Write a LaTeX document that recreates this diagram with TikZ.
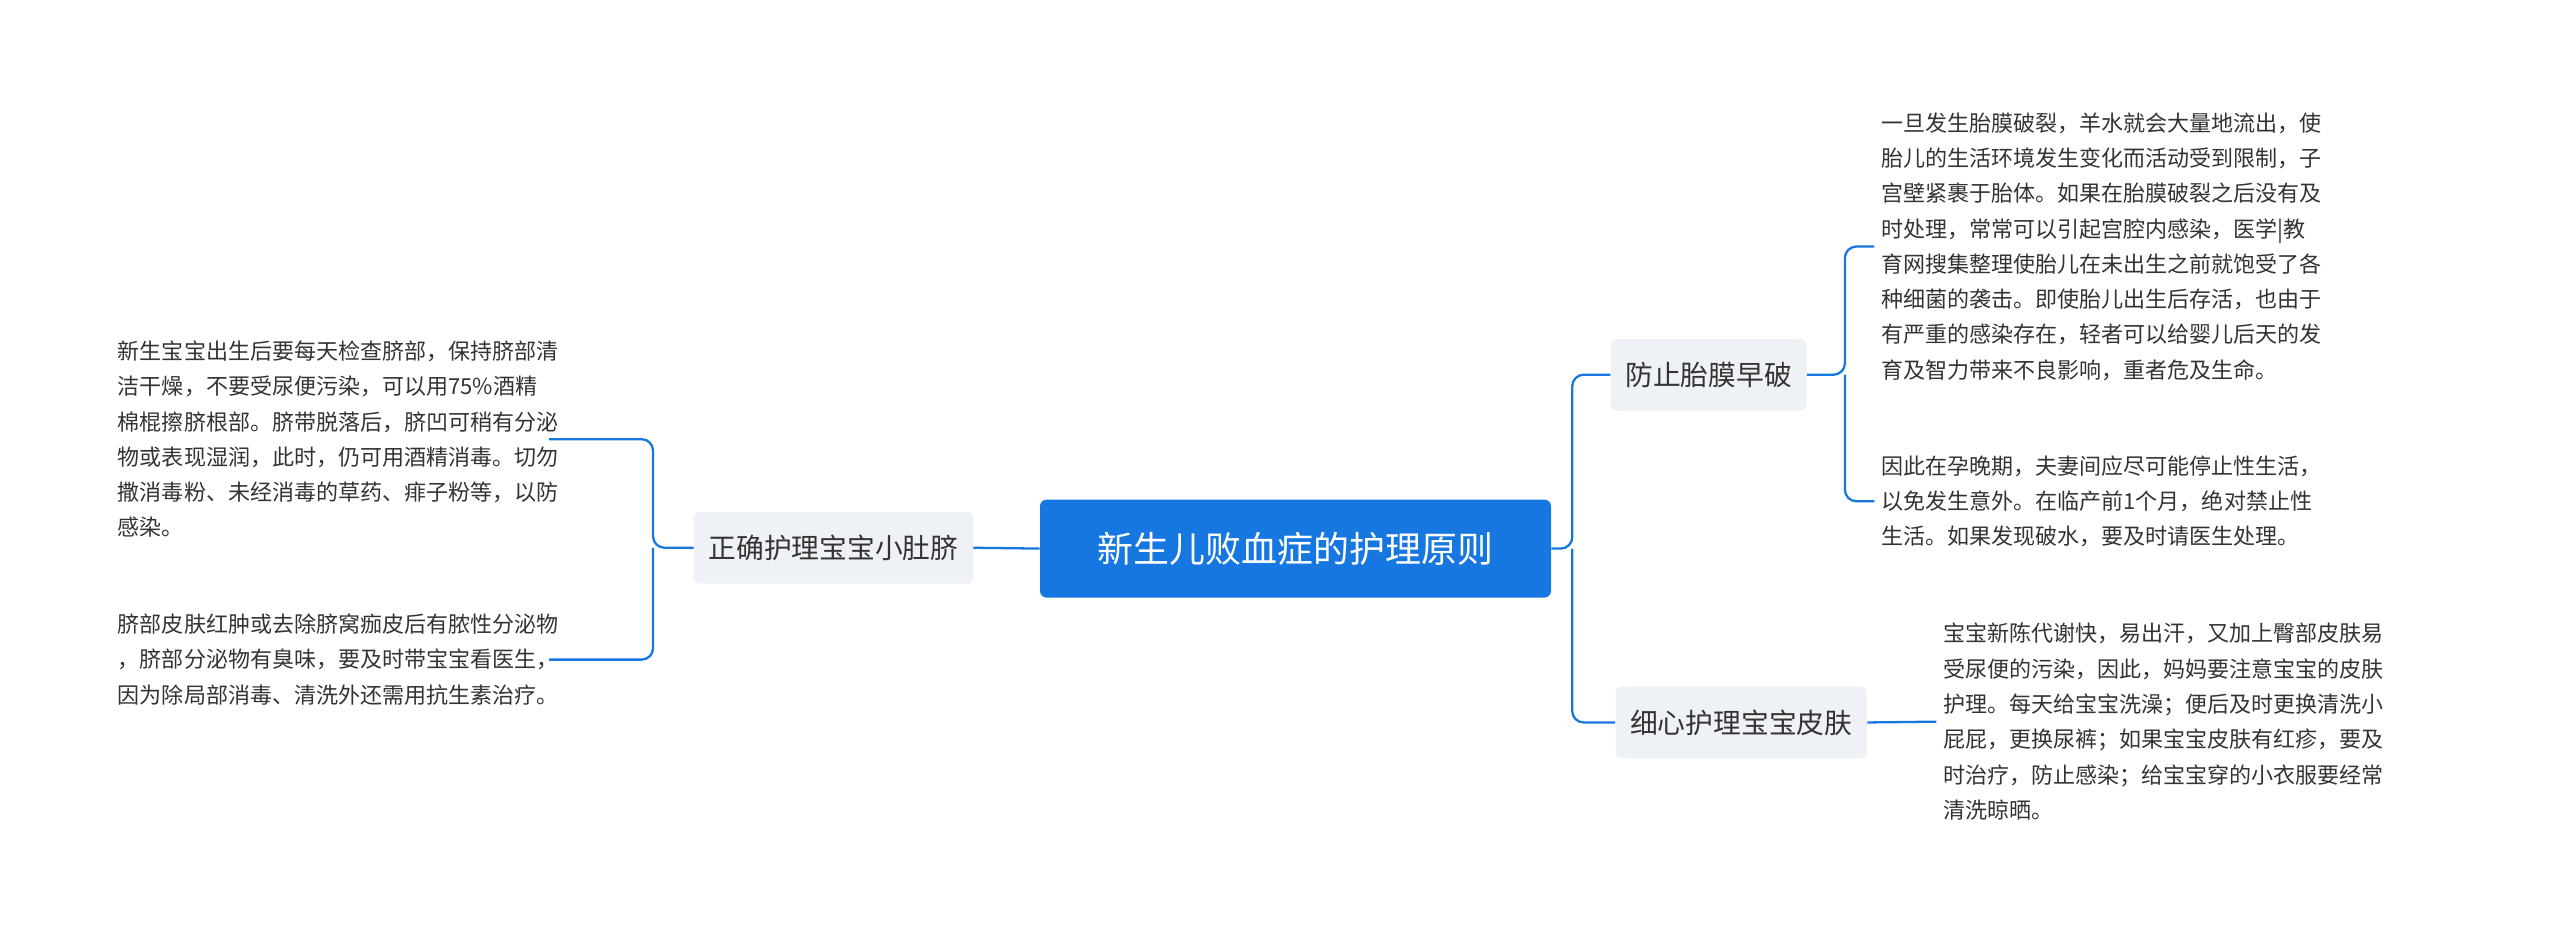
\documentclass[tikz,border=0pt]{standalone}
\usepackage{fontspec}
\setmainfont{Noto Sans CJK SC}
\definecolor{lb}{HTML}{1677E0}
\definecolor{gb}{HTML}{EEF1F5}
\definecolor{tx}{HTML}{333333}
\begin{document}
\begin{tikzpicture}[x=1pt,y=-1pt,
 root/.style={fill=lb,text=white,rounded corners=4pt,minimum width=313pt,minimum height=60pt,font=\fontsize{22}{26}\selectfont},
 br/.style={fill=gb,text=tx,rounded corners=4pt,minimum height=44pt,inner xsep=9pt,font=\fontsize{17}{20}\selectfont},
 leaf/.style={text=tx,align=left,inner sep=0pt,font=\fontsize{13.5}{21.6}\selectfont},
 ln/.style={draw=lb,line width=1.4pt,rounded corners=7pt}]
\useasboundingbox (0,0) rectangle (1568,574);
\node[root] (r) at (793.5,336) {新生儿败血症的护理原则};
\node[br] (b1) at (510.5,335.5) {正确护理宝宝小肚脐};
\node[br] (b2) at (1046.5,229.5) {防止胎膜早破};
\node[br] (b3) at (1066.5,442.5) {细心护理宝宝皮肤};
\node[leaf,anchor=west] (l1) at (72,269) {新生宝宝出生后要每天检查脐部，保持脐部清\\洁干燥，不要受尿便污染，可以用75\%酒精\\棉棍擦脐根部。脐带脱落后，脐凹可稍有分泌\\物或表现湿润，此时，仍可用酒精消毒。切勿\\撒消毒粉、未经消毒的草药、痱子粉等，以防\\感染。};
\node[leaf,anchor=west] (l2) at (72,404) {脐部皮肤红肿或去除脐窝痂皮后有脓性分泌物\\，脐部分泌物有臭味，要及时带宝宝看医生，\\因为除局部消毒、清洗外还需用抗生素治疗。};
\node[leaf,anchor=west] (t1) at (1152,151) {一旦发生胎膜破裂，羊水就会大量地流出，使\\胎儿的生活环境发生变化而活动受到限制，子\\宫壁紧裹于胎体。如果在胎膜破裂之后没有及\\时处理，常常可以引起宫腔内感染，医学|教\\育网搜集整理使胎儿在未出生之前就饱受了各\\种细菌的袭击。即使胎儿出生后存活，也由于\\有严重的感染存在，轻者可以给婴儿后天的发\\育及智力带来不良影响，重者危及生命。};
\node[leaf,anchor=west] (t2) at (1152,307) {因此在孕晚期，夫妻间应尽可能停止性生活，\\以免发生意外。在临产前1个月，绝对禁止性\\生活。如果发现破水，要及时请医生处理。};
\node[leaf,anchor=west] (t3) at (1190,442) {宝宝新陈代谢快，易出汗，又加上臀部皮肤易\\受尿便的污染，因此，妈妈要注意宝宝的皮肤\\护理。每天给宝宝洗澡；便后及时更换清洗小\\屁屁，更换尿裤；如果宝宝皮肤有红疹，要及\\时治疗，防止感染；给宝宝穿的小衣服要经常\\清洗晾晒。};
\coordinate (cr) at (963,336);
\coordinate (cl) at (400,335.5);
\coordinate (c2) at (1130,229.5);
\draw[ln] (r.west) -- (b1.east);
\draw[ln] (r.east) -- (cr) |- (b2.west);
\draw[ln] (cr) |- (b3.west);
\draw[ln] (b1.west) -- (cl) |- ([xshift=-6pt]l1.east);
\draw[ln] (cl) |- ([xshift=-6pt]l2.east);
\draw[ln] (b2.east) -- (c2) |- ([xshift=-4pt]t1.west);
\draw[ln] (c2) |- ([xshift=-4pt]t2.west);
\draw[ln] (b3.east) -- ([xshift=-4pt]t3.west);
\end{tikzpicture}
\end{document}
